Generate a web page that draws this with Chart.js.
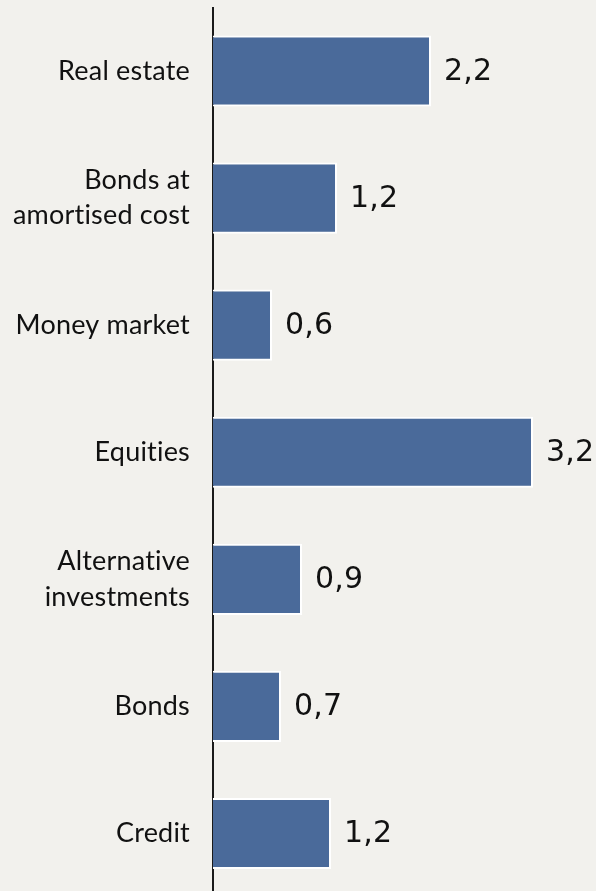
<!DOCTYPE html>
<html>
<head>
<meta charset="utf-8">
<script src="https://cdn.jsdelivr.net/npm/chart.js@4/dist/chart.umd.min.js"></script>
<style>
    html, body { margin: 0; padding: 0; background: #f2f1ed; overflow: hidden; }
    #chartContainer { width: 596px; height: 897px; }
</style>
</head>
<body>
<div id="chartContainer"><canvas id="myChart" width="596" height="897"></canvas></div>
<script>
// Data ////////////////////////////////////////////////////////////////////
var categories = ['Real estate', ['Bonds at', 'amortised cost'], 'Money market', 'Equities', ['Alternative', 'investments'], 'Bonds', 'Credit'];
var values = [2.18, 1.24, 0.59, 3.2, 0.89, 0.68, 1.18];
var xMin = 0;
var xMax = 3.83;

// no "ti" ligatures in the category labels
var noLigatures = {
    id: 'noLigatures',
    beforeDraw: function (chart) {
        chart.ctx.letterSpacing = '0.2px';
        chart.ctx.textRendering = 'optimizeSpeed';
    }
};

// value labels at the end of each bar
var valueLabels = {
    id: 'valueLabels',
    afterDatasetsDraw: function (chart) {
        var ctx = chart.ctx;
        var meta = chart.getDatasetMeta(0);
        ctx.save();
        ctx.font = '30px "DejaVu Sans"';
        ctx.fillStyle = '#111';
        ctx.textAlign = 'left';
        ctx.textBaseline = 'middle';
        meta.data.forEach(function (bar, i) {
            var txt = values[i].toFixed(1).replace('.', ',');
            ctx.fillText(txt, bar.x + 13, bar.y + 1);
        });
        ctx.restore();
    }
};

var ctx = document.getElementById('myChart').getContext('2d');
var chart = new Chart(ctx, {
    type: 'bar',
    data: {
        labels: categories,
        datasets: [{
            data: values,
            backgroundColor: '#4a6a9a',
            borderColor: '#ffffff',
            borderWidth: { top: 2, right: 2, bottom: 2, left: 0 },
            borderSkipped: false,
            categoryPercentage: 1,
            barPercentage: 0.56
        }]
    },
    options: {
        indexAxis: 'y',
        responsive: false,
        animation: false,
        layout: { padding: { top: 7.5, right: 0, bottom: 0, left: 0 } },
        plugins: {
            legend: { display: false },
            tooltip: { enabled: false }
        },
        scales: {
            x: {
                display: false,
                min: xMin,
                max: xMax
            },
            y: {
                grid: { display: false, drawTicks: false },
                border: { display: true, color: '#1a1a1a', width: 2 },
                ticks: {
                    color: '#111',
                    padding: 23,
                    font: { family: 'Lato', size: 27, lineHeight: 1.3 }
                },
                afterFit: function (scale) {
                    scale.width = 213;
                    scale.paddingTop = 0;
                    scale.paddingBottom = 0;
                }
            }
        }
    },
    plugins: [noLigatures, valueLabels]
});
</script>
</body>
</html>
